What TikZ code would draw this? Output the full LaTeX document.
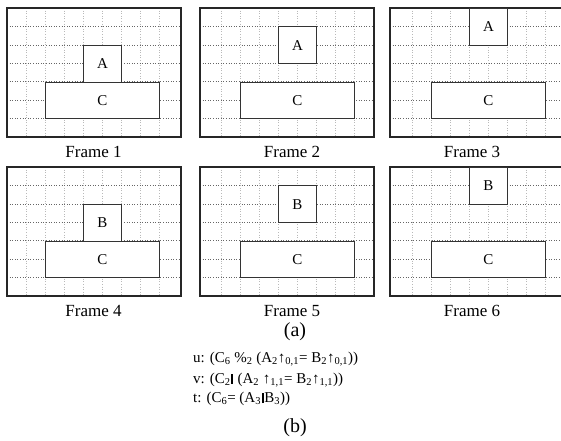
\documentclass[tikz,border=0pt]{standalone}
\usepackage{fontspec}
\setmainfont{Liberation Serif}
\usetikzlibrary{positioning}
\newcommand{\seqbar}{\hspace{0.8pt}\rule[-0.6pt]{1.7pt}{10pt}\hspace{0.8pt}}

\begin{document}
\begin{tikzpicture}[x=1pt, y=-1pt,
  vgrid/.style={gray!55, dotted, line width=0.6pt},
  hgrid/.style={gray!80!black, dotted, line width=0.6pt},
  framebox/.style={draw=black!85, line width=1.05pt},
  block/.style={draw=black!80, fill=white, line width=0.9pt, inner sep=0pt,
                font=\fontsize{15}{17}\selectfont},
  caption/.style={font=\fontsize{17}{19}\selectfont},
  formula/.style={anchor=west, inner sep=0pt, font=\fontsize{15}{17}\selectfont}]
  \useasboundingbox (0,0) rectangle (561,440);
  \clip (0,0) rectangle (561,440);

  % six frames: number / left / top / grid offset / block / row of block / caption x
  \foreach \n/\fx/\fy/\d/\lbl/\row/\cx in {1/7/8/19/A/2/93.5, 2/200/8/21/A/1/292,
      3/390/8/22/A/0/472, 4/7/167/19/B/2/93.5, 5/200/167/21/B/1/292, 6/390/167/22/B/0/472} {
    \foreach \i in {0,...,7}
      \draw[vgrid] (\fx+\d+\i*19, \fy) -- (\fx+\d+\i*19, \fy+129);
    \foreach \j in {1,...,6}
      \draw[hgrid] (\fx, \fy+\j*18.4) -- (\fx+174, \fy+\j*18.4);
    \draw[framebox] (\fx,\fy) rectangle (\fx+174,\fy+129);
    \node[block, anchor=north west, minimum width=38pt, minimum height=36.8pt]
      (top\n) at (\fx+\d+57, \fy+\row*18.4) {\lbl};
    \node[block, anchor=north west, minimum width=114pt, minimum height=36.8pt]
      (base\n) at (\fx+\d+19, \fy+4*18.4) {C};
    \node[caption] (cap\n) at (\cx, \fy+144) {Frame \n};
  }

  \node[font=\fontsize{20}{22}\selectfont] (parta) at (295,332) {(a)};
  \node[formula] (ruleu) at (193,359)
    {u: (C\textsubscript{6} \%\textsubscript{2} (A\textsubscript{2}↑\textsubscript{0,1}= B\textsubscript{2}↑\textsubscript{0,1}))};
  \node[formula] (rulev) at (193,380)
    {v: (C\textsubscript{2}\seqbar{} (A\textsubscript{2} ↑\textsubscript{1,1}= B\textsubscript{2}↑\textsubscript{1,1}))};
  \node[formula] (rulet) at (193,399)
    {t: (C\textsubscript{6}= (A\textsubscript{3}\seqbar{}B\textsubscript{3}))};
  \node[font=\fontsize{20}{22}\selectfont] (partb) at (295,428) {(b)};
\end{tikzpicture}
\end{document}
